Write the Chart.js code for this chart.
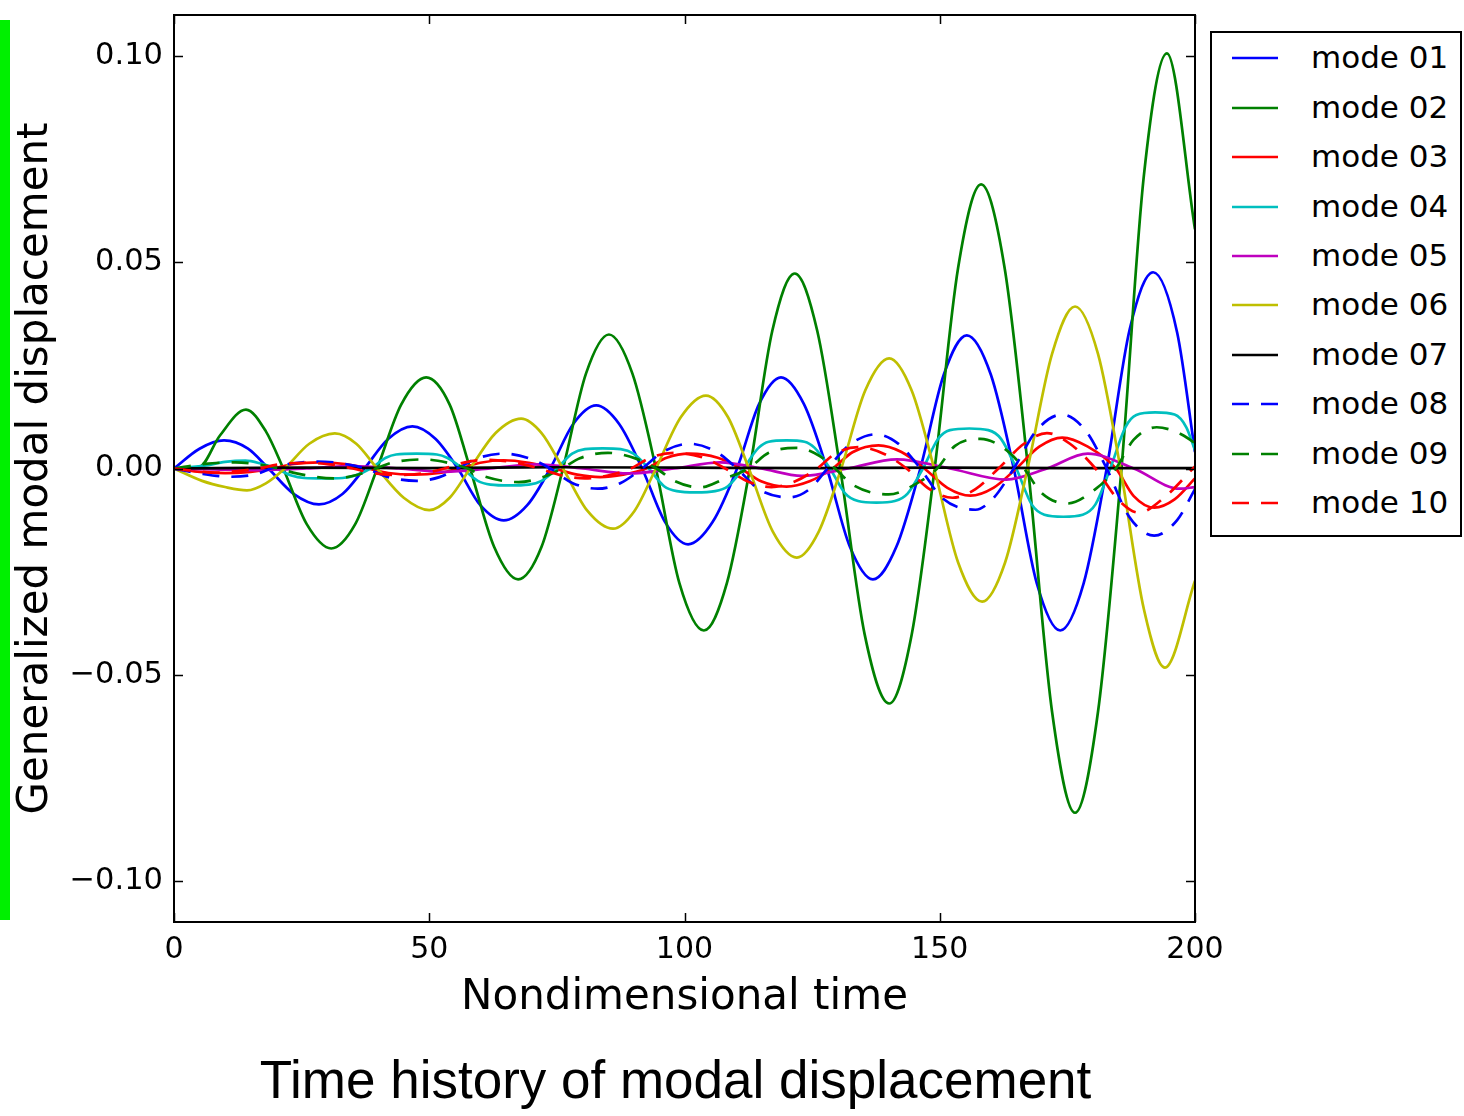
<!DOCTYPE html>
<html>
<head>
<meta charset="utf-8">
<title>Time history of modal displacement</title>
<script src="https://cdn.jsdelivr.net/npm/chart.js@4.4.1/dist/chart.umd.min.js"></script>
<style>
    body { margin: 0; background: #fff; }
    #page { position: relative; width: 1464px; height: 1116px; overflow: hidden; background: #fff; }
    #chartBox { position: absolute; left: 0; top: 0; width: 1464px; height: 1040px; }
    #greenBar { position: absolute; left: 0; top: 20px; width: 10px; height: 900px; background: #00f000; }
    #legend {
        position: absolute; left: 1210px; top: 31px; width: 248px; height: 502px;
        border: 2px solid #000; background: #fff;
        font-family: 'DejaVu Sans', sans-serif; font-size: 31px; color: #000;
    }
    .legendRow { position: absolute; left: 0; width: 248px; height: 49.4px; }
    .legendRow svg { position: absolute; left: 20px; top: 23px; }
    .legendRow span { position: absolute; left: 99px; top: 0; line-height: 49.4px; white-space: nowrap; }
    #caption {
        position: absolute; left: 0; top: 1053px; width: 1351px; text-align: center;
        font-family: 'Liberation Sans', Arial, sans-serif; font-size: 53px; line-height: 53px; color: #000;
    }
</style>
</head>
<body>
<div id="page">
    <div id="chartBox"><canvas id="modalChart"></canvas></div>
    <div id="greenBar"></div>
    <div id="legend"></div>
    <div id="caption">Time history of modal displacement</div>
</div>
<script>
// Axis ticks
const xTicks = [0, 50, 100, 150, 200];
const yTicks = [-0.10, -0.05, 0.00, 0.05, 0.10];

// Series names and styles (matplotlib classic colours)
const modeNames = ['mode 01', 'mode 02', 'mode 03', 'mode 04', 'mode 05',
                   'mode 06', 'mode 07', 'mode 08', 'mode 09', 'mode 10'];
const modeColors = ['#0000ff', '#008000', '#ff0000', '#00bfbf', '#bf00bf',
                    '#bfbf00', '#000000', '#0000ff', '#008000', '#ff0000'];
const modeDashed = [false, false, false, false, false, false, false, true, true, true];

// Values: time and displacement for every mode
const time01 = [0, 5, 9.8, 14.5, 18.5, 23.5, 28.4, 33, 37.3, 42, 46.7, 51.2, 55.6, 60, 64.6, 69.2, 73.7, 78.2, 82.7, 87.2, 91.7, 96.2, 100.7, 105.5, 110.3, 114.6, 118.9, 123.4, 127.9, 132.4, 136.9, 141.5, 146.2, 150.8, 155.3, 160, 164.5, 169, 173.6, 178.2, 182.7, 187.2, 191.8, 196.5, 200];
const mode01 = [0, 0.0048, 0.0068, 0.0048, 0, -0.0062, -0.0087, -0.0062, 0, 0.0072, 0.0102, 0.0072, 0, -0.0089, -0.0126, -0.0089, 0, 0.0108, 0.0153, 0.0108, 0, -0.013, -0.0184, -0.013, 0, 0.0156, 0.0221, 0.0156, 0, -0.019, -0.0269, -0.019, 0, 0.0228, 0.0323, 0.0228, 0, -0.0278, -0.0393, -0.0278, 0, 0.0337, 0.0476, 0.033, 0.004];

const time02 = [0, 5, 9, 14.1, 18, 21.4, 26, 30.8, 35.5, 39.8, 44.5, 49.4, 54, 58, 62.7, 67.4, 72, 76.2, 80.7, 85.2, 89.8, 94.4, 99, 103.8, 108.3, 112.8, 117.2, 121.6, 126, 130.5, 135.3, 140.1, 144.5, 149, 153.6, 158.1, 162.7, 167.3, 172, 176.5, 181, 185.6, 190, 194.5, 200];
const mode02 = [0, 0.0004, 0.008, 0.0143, 0.009, 0, -0.0135, -0.0194, -0.0135, 0, 0.0155, 0.0221, 0.0155, 0, -0.019, -0.0269, -0.019, 0, 0.023, 0.0325, 0.023, 0, -0.0278, -0.0393, -0.0278, 0, 0.0334, 0.0473, 0.0334, 0, -0.0403, -0.057, -0.0403, 0, 0.0487, 0.0689, 0.0487, 0, -0.059, -0.0835, -0.059, 0, 0.0712, 0.1007, 0.058];

const time03 = [0, 4, 10, 15, 19.5, 23.5, 28.5, 33.5, 38, 42, 47, 52, 56, 60, 64.5, 69.5, 74.5, 79, 83.5, 88, 92.5, 96.5, 101, 106.5, 111, 115, 120, 124.5, 129, 133, 138, 142.5, 147, 151.5, 156, 160.5, 165, 169.5, 174, 179, 184.5, 188, 192, 196, 200];
const mode03 = [0, -0.0007, -0.0011, -0.0008, 0, 0.0011, 0.0015, 0.0011, 0, -0.0011, -0.0015, -0.0011, 0, 0.0014, 0.002, 0.0014, 0, -0.0015, -0.0021, -0.0015, 0, 0.0026, 0.0036, 0.0026, 0, -0.0031, -0.0044, -0.0031, 0, 0.004, 0.0056, 0.004, 0, -0.0047, -0.0066, -0.0047, 0, 0.0053, 0.0075, 0.0053, 0, -0.0067, -0.0095, -0.0075, -0.0024];

const time04 = [0, 6, 10, 14, 17, 20, 23, 25.5, 29.2, 33, 35.5, 38.5, 41.5, 43.5, 47.5, 51.5, 53.5, 56.5, 59.5, 62, 65.7, 69.5, 72, 75, 78, 80.5, 84, 87.5, 90, 93, 96, 98.5, 102.2, 106, 108.5, 111.5, 114.5, 116.5, 120, 123.5, 125.5, 128.5, 131.5, 134, 137.6, 141.2, 143.7, 146.7, 149.7, 152, 155.8, 159.5, 162, 165, 168, 170.5, 174.2, 178, 180.5, 183.4, 186.4, 188.5, 192.2, 196, 198.3, 200];
const mode04 = [0, 0.0007, 0.0016, 0.0019, 0.0012, 0, -0.0017, -0.0023, -0.0024, -0.0023, -0.0017, 0, 0.0026, 0.0034, 0.0036, 0.0034, 0.0026, 0, -0.003, -0.0039, -0.0041, -0.0039, -0.003, 0, 0.0036, 0.0047, 0.0049, 0.0047, 0.0036, 0, -0.0043, -0.0055, -0.0058, -0.0055, -0.0043, 0, 0.005, 0.0065, 0.0068, 0.0065, 0.005, 0, -0.0061, -0.0079, -0.0083, -0.0079, -0.0061, 0, 0.0072, 0.0093, 0.0097, 0.0093, 0.0072, 0, -0.0087, -0.0112, -0.0117, -0.0112, -0.0087, 0, 0.0101, 0.013, 0.0136, 0.0131, 0.01, 0.0044];

const time05 = [0, 8, 17, 26, 35, 44, 53, 62, 71, 80, 89, 98, 107, 115, 123, 132, 141.6, 152, 163, 171, 179, 188, 197, 200];
const mode05 = [0, -0.0002, -0.0004, 0, 0.0006, 0, -0.0008, 0, 0.001, 0, -0.0012, 0, 0.0015, 0, -0.0018, 0, 0.0022, 0, -0.0027, 0, 0.0036, 0, -0.0049, -0.0045];

const time06 = [0, 5.5, 10, 14.3, 18, 21.7, 26.5, 31.5, 35.7, 39.8, 45, 50, 54, 58, 63, 68, 72, 76.2, 81, 86, 90.2, 94.4, 99.3, 104.2, 108.5, 112.6, 117.3, 122, 126.3, 130.7, 135.4, 140.1, 144.5, 148.9, 153.6, 158.3, 162.8, 167.2, 172, 176.5, 181, 185.4, 190, 194.1, 200];
const mode06 = [0, -0.003, -0.0045, -0.0053, -0.0036, 0, 0.006, 0.0085, 0.006, 0, -0.0071, -0.0101, -0.0071, 0, 0.0086, 0.0121, 0.0086, 0, -0.0103, -0.0146, -0.0103, 0, 0.0125, 0.0177, 0.0125, 0, -0.0153, -0.0216, -0.0153, 0, 0.0189, 0.0267, 0.0189, 0, -0.0228, -0.0323, -0.0228, 0, 0.0278, 0.0393, 0.0278, 0, -0.0342, -0.0483, -0.0272];

const time07 = [0, 25, 50, 75, 100, 125, 150, 175, 200];
const mode07 = [0, 0.0002, 0.0001, 0.0003, 0.0002, 0.0001, 0.0002, 0.0001, 0.0001];

const time08 = [0, 5, 11, 16, 19, 23, 28, 33, 37.5, 42, 47.5, 52, 55.5, 59.5, 64.5, 69.5, 73.7, 78, 83, 87.5, 91.7, 96, 101, 106, 110.3, 114.5, 120.5, 124.5, 128, 132.5, 137.5, 142, 146.2, 150.5, 157, 160.5, 164.5, 169, 174, 178.5, 182.7, 187, 192, 196.5, 200];
const mode08 = [0, -0.0012, -0.002, -0.0014, 0, 0.0012, 0.0017, 0.0012, 0, -0.0021, -0.003, -0.0021, 0, 0.0025, 0.0036, 0.0025, 0, -0.0035, -0.0049, -0.0035, 0, 0.0042, 0.006, 0.0042, 0, -0.005, -0.007, -0.005, 0, 0.0059, 0.0083, 0.0059, 0, -0.0072, -0.01, -0.0072, 0, 0.0093, 0.0131, 0.0093, 0, -0.0115, -0.0163, -0.0125, -0.005];

const time09 = [0, 6, 12, 17, 20.5, 24, 31.5, 36, 39.5, 43, 49, 54, 57.5, 61, 67.5, 72.5, 76, 79.5, 85, 90.5, 94.5, 98, 103, 108, 112.5, 116.5, 122, 126.5, 129.5, 133, 140, 145.5, 149.5, 153, 158, 163, 166.5, 170, 175, 180.5, 184.5, 188, 192.5, 197, 200];
const mode09 = [0, 0.0011, 0.0015, 0.0009, 0, -0.0012, -0.0024, -0.0015, 0, 0.0015, 0.0022, 0.0013, 0, -0.002, -0.0033, -0.002, 0, 0.0025, 0.0038, 0.0024, 0, -0.003, -0.0046, -0.0024, 0, 0.0038, 0.005, 0.003, 0, -0.004, -0.0063, -0.0036, 0, 0.0055, 0.0072, 0.0045, 0, -0.006, -0.0085, -0.005, 0, 0.007, 0.01, 0.0085, 0.0062];

const time10 = [0, 4, 8, 12, 16.5, 20.5, 25.5, 30.5, 35, 39, 44, 49, 53, 57, 61.5, 66.5, 71.5, 76, 80.5, 85, 89.5, 93.5, 98, 103.5, 108, 112.5, 117, 121.5, 126, 129.5, 134, 139, 143.5, 148, 152.5, 157, 161.5, 166.5, 171, 175.5, 180.5, 185, 189, 194, 200];
const mode10 = [0, -0.0006, -0.001, -0.0007, 0, 0.001, 0.0014, 0.001, 0, -0.0011, -0.0016, -0.0011, 0, 0.0015, 0.0021, 0.0015, 0, -0.0017, -0.0024, -0.0017, 0, 0.0027, 0.0038, 0.0027, 0, -0.0032, -0.0045, -0.0032, 0, 0.0036, 0.0052, 0.0036, 0, -0.005, -0.0071, -0.005, 0, 0.006, 0.0086, 0.006, 0, -0.0076, -0.0107, -0.007, 0.0005];

const modeTimes = [time01, time02, time03, time04, time05, time06, time07, time08, time09, time10];
const modeValues = [mode01, mode02, mode03, mode04, mode05, mode06, mode07, mode08, mode09, mode10];

const dashPattern = [17, 12];

// Frame and inward ticks on all four sides, like matplotlib
const framePlugin = {
    id: 'frame',
    afterDatasetsDraw(chart) {
        const { ctx, chartArea: area, scales } = chart;
        const tickLen = 9;
        ctx.save();
        ctx.strokeStyle = '#000';
        ctx.lineWidth = 1.5;
        ctx.beginPath();
        xTicks.forEach(v => {
            const px = Math.round(scales.x.getPixelForValue(v)) + 0.5;
            ctx.moveTo(px, area.bottom);
            ctx.lineTo(px, area.bottom - tickLen);
            ctx.moveTo(px, area.top);
            ctx.lineTo(px, area.top + tickLen);
        });
        yTicks.forEach(v => {
            const py = Math.round(scales.y.getPixelForValue(v)) + 0.5;
            ctx.moveTo(area.left, py);
            ctx.lineTo(area.left + tickLen, py);
            ctx.moveTo(area.right, py);
            ctx.lineTo(area.right - tickLen, py);
        });
        ctx.stroke();
        ctx.lineWidth = 2;
        ctx.strokeRect(area.left, area.top, area.right - area.left, area.bottom - area.top);
        ctx.restore();
    }
};

function buildDatasets() {
    return modeNames.map((name, i) => ({
        label: name,
        data: modeTimes[i].map((t, k) => ({ x: t, y: modeValues[i][k] })),
        borderColor: modeColors[i],
        backgroundColor: modeColors[i],
        borderWidth: 2.7,
        borderDash: modeDashed[i] ? dashPattern : [],
        pointRadius: 0,
        fill: false,
        cubicInterpolationMode: 'monotone',
        // later modes are painted on top, as in the original plot
        order: modeNames.length - i
    }));
}

function buildLegend() {
    const legend = document.getElementById('legend');
    modeNames.forEach((name, i) => {
        const row = document.createElement('div');
        row.className = 'legendRow';
        row.style.top = (0.3 + 49.4 * i) + 'px';
        const dash = modeDashed[i] ? ' stroke-dasharray="' + dashPattern.join(' ') + '"' : '';
        row.innerHTML = '<svg width="46" height="4"><line x1="0" y1="2" x2="46" y2="2" stroke="' +
            modeColors[i] + '" stroke-width="2.7"' + dash + '/></svg><span>' + name + '</span>';
        legend.appendChild(row);
    });
}

function formatY(value) {
    return value.toFixed(2).replace('-', '\u2212');
}

function initializeChart() {
    const ctx = document.getElementById('modalChart').getContext('2d');
    new Chart(ctx, {
        type: 'line',
        data: { datasets: buildDatasets() },
        plugins: [framePlugin],
        options: {
            responsive: true,
            maintainAspectRatio: false,
            animation: false,
            layout: { padding: { left: 0, top: 15, right: 269, bottom: 0 } },
            plugins: {
                legend: { display: false },
                tooltip: { enabled: false }
            },
            scales: {
                x: {
                    type: 'linear',
                    min: 0,
                    max: 200,
                    afterBuildTicks: scale => { scale.ticks = xTicks.map(v => ({ value: v })); },
                    afterFit: scale => {
                        scale.height = 118;
                        scale.paddingLeft = 0;
                        scale.paddingRight = 0;
                    },
                    grid: { display: false, drawTicks: false },
                    border: { display: false },
                    ticks: {
                        padding: 10,
                        maxRotation: 0,
                        color: '#000',
                        font: { family: 'DejaVu Sans', size: 30 },
                        callback: value => String(value)
                    },
                    title: {
                        display: true,
                        text: 'Nondimensional time',
                        color: '#000',
                        font: { family: 'DejaVu Sans', size: 42 },
                        padding: { top: 0, bottom: 17 }
                    }
                },
                y: {
                    min: -0.11,
                    max: 0.11,
                    afterBuildTicks: scale => { scale.ticks = yTicks.map(v => ({ value: v })); },
                    afterFit: scale => {
                        scale.width = 174;
                        scale.paddingTop = 0;
                        scale.paddingBottom = 0;
                    },
                    grid: { display: false, drawTicks: false },
                    border: { display: false },
                    ticks: {
                        padding: 11,
                        color: '#000',
                        font: { family: 'DejaVu Sans', size: 30.5 },
                        callback: value => formatY(value)
                    },
                    title: {
                        display: true,
                        text: 'Generalized modal displacement',
                        color: '#000',
                        font: { family: 'DejaVu Sans', size: 42 },
                        padding: { top: 11, bottom: 0 }
                    }
                }
            }
        }
    });
}

document.addEventListener('DOMContentLoaded', function() {
    buildLegend();
    initializeChart();
});
</script>
</body>
</html>
